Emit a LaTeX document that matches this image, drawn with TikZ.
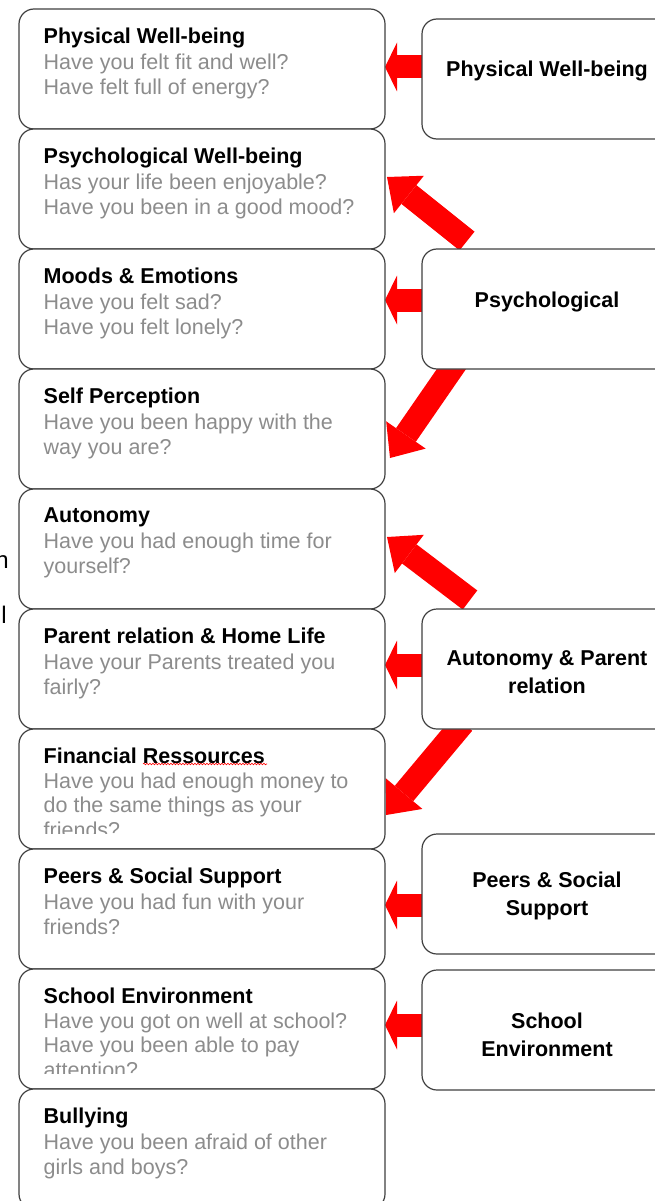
\documentclass[tikz,border=0pt]{standalone}
\usepackage{fontspec}
\setmainfont{Liberation Sans}
\usetikzlibrary{positioning,arrows.meta,backgrounds,decorations.pathmorphing}

\newcommand{\ltitle}[1]{\textcolor{black}{\textbf{#1}}}

\tikzset{
  lbox/.style={draw=black!75, line width=1.2pt, fill=white, rounded corners=15pt,
    minimum width=366pt, minimum height=120pt, inner sep=0pt, outer sep=0pt, anchor=north west},
  rbox/.style={lbox, minimum width=250pt},
  ltext/.style={anchor=north west, align=left, inner sep=0pt, text=black!45,
    font=\fontsize{21.5}{25.5}\selectfont},
  rtext/.style={align=center, inner sep=0pt, font=\fontsize{21.5}{28}\selectfont\bfseries},
  harrow/.style={red, line width=23pt, -{Triangle[length=12pt 0 0, width=49pt 0 0, line width=0pt 0 0]}},
  darrow/.style={red, line width=24pt, -{Triangle[length=28pt 0 0, width=48pt 0 0, line width=0pt 0 0]}},
  stray/.style={inner sep=0pt, anchor=base, font=\fontsize{24}{24}\selectfont}
}

\begin{document}
\begin{tikzpicture}[x=1pt, y=-1pt]
\useasboundingbox (0,0) rectangle (655,1201);

% question boxes
\node[lbox] (lphys) at (19,9) {};
\node[lbox, below=0pt of lphys] (lpsy) {};
\node[lbox, below=0pt of lpsy] (lmood) {};
\node[lbox, below=0pt of lmood] (lself) {};
\node[lbox, below=0pt of lself] (laut) {};
\node[lbox, below=0pt of laut] (lpar) {};
\node[lbox, below=0pt of lpar] (lfin) {};
\node[lbox, below=0pt of lfin] (lpeer) {};
\node[lbox, below=0pt of lpeer] (lsch) {};
\node[lbox, below=0pt of lsch] (lbul) {};

\node[ltext] (tphys) at ([shift={(24.5pt,-19pt)}]lphys.north west)
  {\ltitle{Physical Well-being}\\Have you felt fit and well?\\Have felt full of energy?};
\node[ltext] (tpsy) at ([shift={(24.5pt,-19pt)}]lpsy.north west)
  {\ltitle{Psychological Well-being}\\Has your life been enjoyable?\\Have you been in a good mood?};
\node[ltext] (tmood) at ([shift={(24.5pt,-19pt)}]lmood.north west)
  {\ltitle{Moods \& Emotions}\\Have you felt sad?\\Have you felt lonely?};
\node[ltext] (tself) at ([shift={(24.5pt,-19pt)}]lself.north west)
  {\ltitle{Self Perception}\\Have you been happy with the\\way you are?};
\node[ltext] (taut) at ([shift={(24.5pt,-19pt)}]laut.north west)
  {\ltitle{Autonomy}\\Have you had enough time for\\yourself?};
\node[ltext] (tpar) at ([shift={(24.5pt,-19pt)}]lpar.north west)
  {\ltitle{Parent relation \& Home Life}\\Have your Parents treated you\\fairly?};
\begin{scope}
  \clip (lfin.north west) rectangle ([yshift=-104pt]lfin.north east);
  \node[ltext, font=\fontsize{21.5}{24.5}\selectfont] (tfin) at ([shift={(24.5pt,-19pt)}]lfin.north west)
    {\ltitle{Financial Ressources}\\Have you had enough money to\\do the same things as your\\friends?};
\end{scope}
\draw[red, line width=0.6pt, decorate, decoration={snake, amplitude=0.8pt, segment length=3pt}]
  (143,764) -- (267,764);
\node[ltext] (tpeer) at ([shift={(24.5pt,-19pt)}]lpeer.north west)
  {\ltitle{Peers \& Social Support}\\Have you had fun with your\\friends?};
\begin{scope}
  \clip (lsch.north west) rectangle ([yshift=-104pt]lsch.north east);
  \node[ltext, font=\fontsize{21.5}{24.5}\selectfont] (tsch) at ([shift={(24.5pt,-19pt)}]lsch.north west)
    {\ltitle{School Environment}\\Have you got on well at school?\\Have you been able to pay\\attention?};
\end{scope}
\node[ltext] (tbul) at ([shift={(24.5pt,-19pt)}]lbul.north west)
  {\ltitle{Bullying}\\Have you been afraid of other\\girls and boys?};

% domain boxes
\node[rbox] (rphys) at (422,19) {};
\node[rbox] (rpsy) at (422,249) {};
\node[rbox] (rpar) at (422,609) {};
\node[rbox] (rpeer) at (422,834) {};
\node[rbox] (rsch) at (422,970) {};

\node[rtext] (sphys) at ([yshift=8pt]rphys.center) {Physical Well-being};
\node[rtext] (spsy) at ([yshift=7pt]rpsy.center) {Psychological};
\node[rtext] (spar) at ([yshift=-3pt]rpar.center) {Autonomy \& Parent\\relation};
\node[rtext] (speer) at ([yshift=-2pt]rpeer.center) {Peers \& Social\\Support};
\node[rtext] (ssch) at ([yshift=-5pt]rsch.center) {School\\Environment};

% cut off text at the left edge
\node[stray] (cuth) at (2,568) {h};
\node[stray] (cutl) at (4,623) {l};

% arrows
\begin{scope}[on background layer]
\draw[harrow] ([shift={(10pt,12pt)}]rphys.west) -- ([yshift=2pt]lphys.east);
\draw[harrow] ([shift={(10pt,9pt)}]rpsy.west) -- ([yshift=9pt]lmood.east);
\draw[harrow] ([shift={(10pt,4pt)}]rpar.west) -- ([yshift=4pt]lpar.east);
\draw[harrow] ([shift={(10pt,-11pt)}]rpeer.west) -- ([yshift=4pt]lpeer.east);
\draw[harrow] ([shift={(10pt,5pt)}]rsch.west) -- ([yshift=4pt]lsch.east);
\draw[darrow] ([shift={(45pt,8pt)}]rpsy.north west) -- ([shift={(2pt,12pt)}]lpsy.east);
\draw[darrow] ([shift={(35pt,8pt)}]rpsy.south west) -- ([shift={(5pt,-29pt)}]lself.east);
\draw[darrow] ([shift={(48pt,9pt)}]rpar.north west) -- ([shift={(2pt,12pt)}]laut.east);
\draw[darrow] ([shift={(41pt,6pt)}]rpar.south west) -- ([shift={(1pt,-26pt)}]lfin.east);
\end{scope}
\end{tikzpicture}
\end{document}
